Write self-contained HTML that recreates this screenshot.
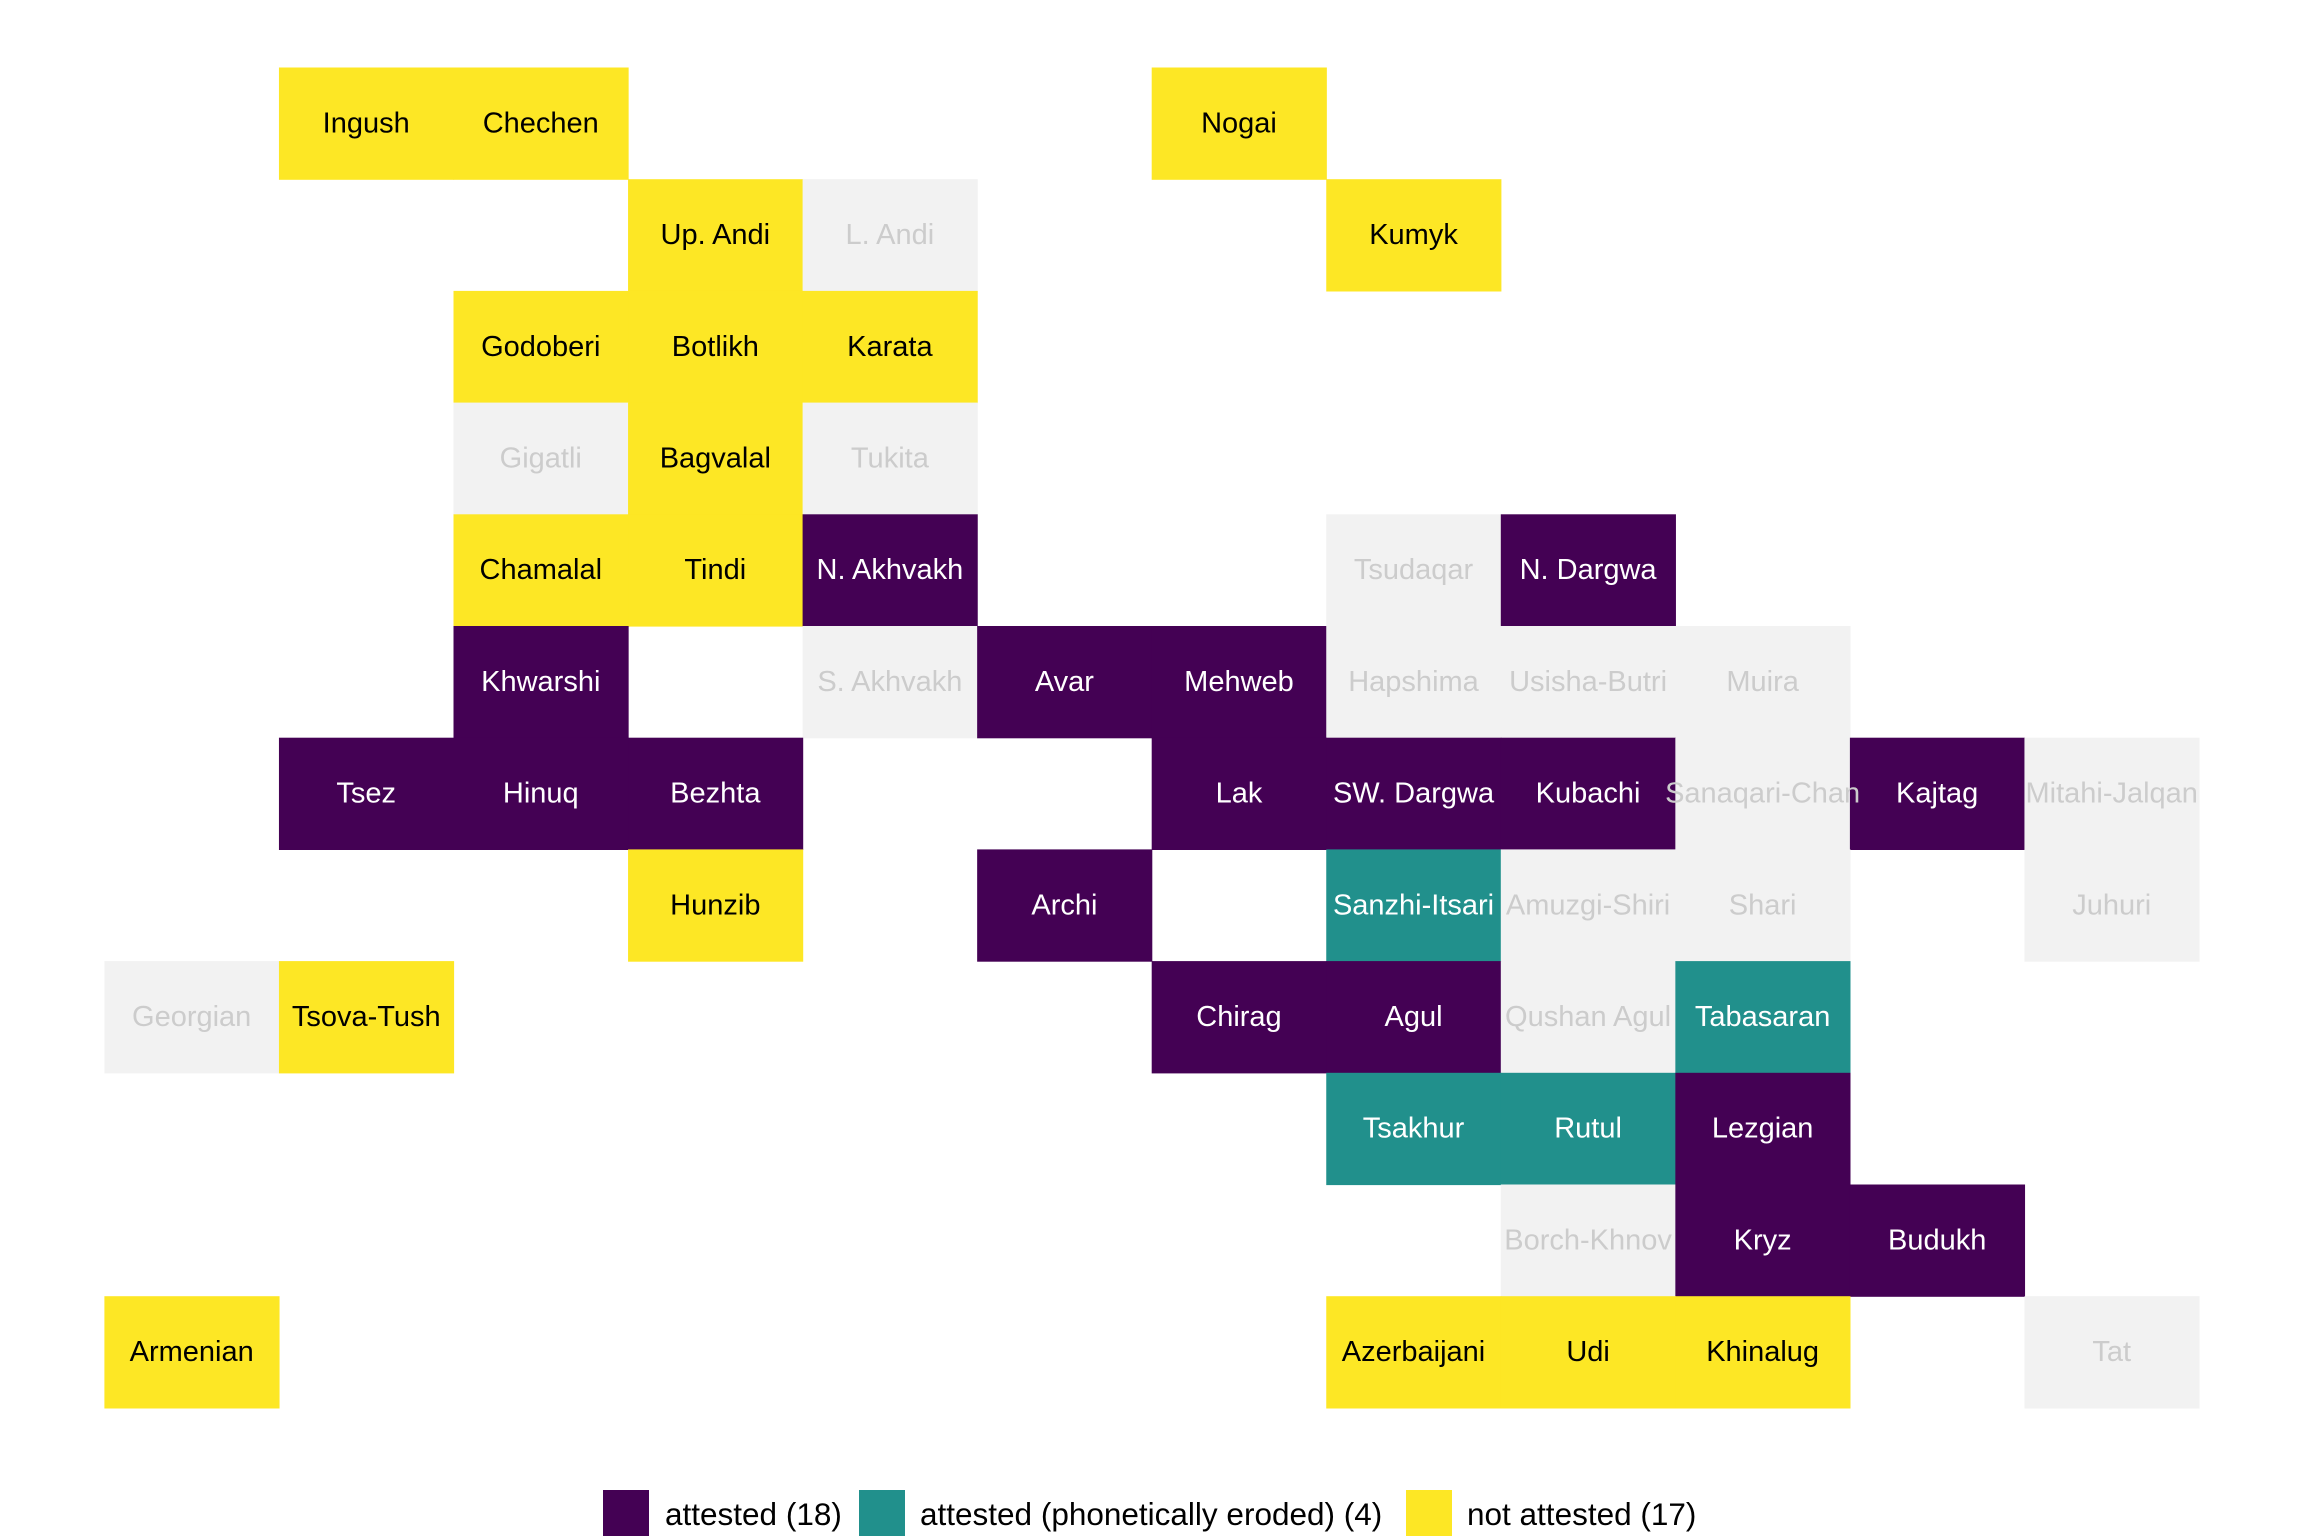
<!DOCTYPE html>
<html><head><meta charset="utf-8"><style>
html,body{margin:0;padding:0;background:#fff;}
svg{display:block;}
text{font-family:"Liberation Sans",Arial,sans-serif;}
</style></head><body>
<svg width="2304" height="1536" xmlns="http://www.w3.org/2000/svg">
<g id="cells"></g><g id="labels" font-size="29" text-anchor="middle" dominant-baseline="central"></g>
<g font-size="31.5" dominant-baseline="central">
<rect x="603" y="1490" width="46" height="46" fill="#440154"/>
<text x="665" y="1514">attested (18)</text>
<rect x="859" y="1490" width="46" height="46" fill="#21908C"/>
<text x="920" y="1514">attested (phonetically eroded) (4)</text>
<rect x="1406" y="1490" width="46" height="46" fill="#FDE725"/>
<text x="1467" y="1514">not attested (17)</text>
</g>
</svg>
<script>
const d=[
[0,1,'Ingush','Y'],[0,2,'Chechen','Y'],[0,6,'Nogai','Y'],
[1,3,'Up. Andi','Y'],[1,4,'L. Andi','G'],[1,7,'Kumyk','Y'],
[2,2,'Godoberi','Y'],[2,3,'Botlikh','Y'],[2,4,'Karata','Y'],
[3,2,'Gigatli','G'],[3,3,'Bagvalal','Y'],[3,4,'Tukita','G'],
[4,2,'Chamalal','Y'],[4,3,'Tindi','Y'],[4,4,'N. Akhvakh','P'],[4,7,'Tsudaqar','G'],[4,8,'N. Dargwa','P'],
[5,2,'Khwarshi','P'],[5,4,'S. Akhvakh','G'],[5,5,'Avar','P'],[5,6,'Mehweb','P'],[5,7,'Hapshima','G'],[5,8,'Usisha-Butri','G'],[5,9,'Muira','G'],
[6,1,'Tsez','P'],[6,2,'Hinuq','P'],[6,3,'Bezhta','P'],[6,6,'Lak','P'],[6,7,'SW. Dargwa','P'],[6,8,'Kubachi','P'],[6,9,'Sanaqari-Chan','G'],[6,10,'Kajtag','P'],[6,11,'Mitahi-Jalqan','G'],
[7,3,'Hunzib','Y'],[7,5,'Archi','P'],[7,7,'Sanzhi-Itsari','T'],[7,8,'Amuzgi-Shiri','G'],[7,9,'Shari','G'],[7,11,'Juhuri','G'],
[8,0,'Georgian','G'],[8,1,'Tsova-Tush','Y'],[8,6,'Chirag','P'],[8,7,'Agul','P'],[8,8,'Qushan Agul','G'],[8,9,'Tabasaran','T'],
[9,7,'Tsakhur','T'],[9,8,'Rutul','T'],[9,9,'Lezgian','P'],
[10,8,'Borch-Khnov','G'],[10,9,'Kryz','P'],[10,10,'Budukh','P'],
[11,0,'Armenian','Y'],[11,7,'Azerbaijani','Y'],[11,8,'Udi','Y'],[11,9,'Khinalug','Y'],[11,11,'Tat','G']];
const bg={Y:'#FDE725',G:'#F2F2F2',P:'#440154',T:'#21908C'},fg={Y:'#000',G:'#CCCCCC',P:'#fff',T:'#fff'};
const x0=104.4,w=174.55,y0=67.5,h=111.7,ns='http://www.w3.org/2000/svg';
const C=document.getElementById('cells'),L=document.getElementById('labels');
for(const [r,c,t,k] of d){const e=document.createElementNS(ns,'rect');e.setAttribute('x',x0+c*w);e.setAttribute('y',y0+r*h);e.setAttribute('width',w+0.6);e.setAttribute('height',h+0.6);e.setAttribute('fill',bg[k]);C.appendChild(e);
const s=document.createElementNS(ns,'text');s.setAttribute('x',x0+c*w+w/2);s.setAttribute('y',y0+r*h+h/2);s.setAttribute('fill',fg[k]);s.textContent=t;L.appendChild(s);}
</script>
</body></html>
